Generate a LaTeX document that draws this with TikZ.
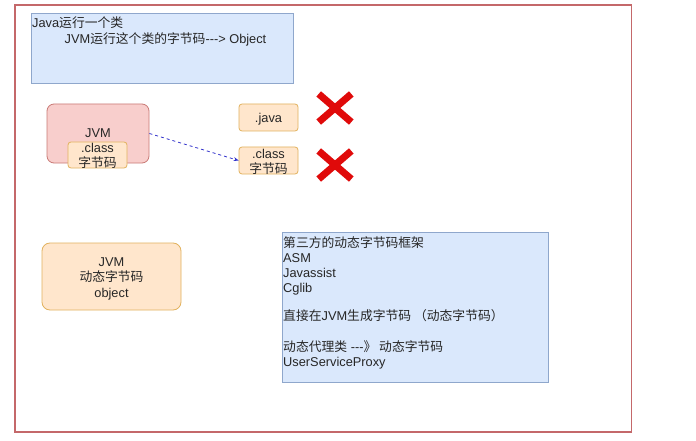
\documentclass[tikz,border=0pt]{standalone}
\usepackage{fontspec}
\setmainfont{Liberation Sans}
\newfontfamily\zhfont{Noto Sans CJK SC}
\newcommand{\zh}[1]{{\zhfont #1}}
\usetikzlibrary{arrows.meta}
\definecolor{bluefill}{HTML}{DAE8FC}
\definecolor{bluedraw}{HTML}{8FA7CC}
\definecolor{pinkfill}{HTML}{F8CECC}
\definecolor{pinkdraw}{HTML}{C97A76}
\definecolor{orfill}{HTML}{FFE6CC}
\definecolor{ordraw}{HTML}{E2B25E}
\definecolor{framecol}{HTML}{C4686A}
\definecolor{xred}{HTML}{E00A0A}
\definecolor{arrowblue}{HTML}{3333CC}
\begin{document}
\begin{tikzpicture}[x=1pt,y=-1pt,
  every node/.style={font=\fontsize{12.8}{15}\selectfont, text=black!85},
  bluebox/.style={draw=bluedraw, fill=bluefill, line width=0.8pt, inner sep=0pt},
  pinkbox/.style={draw=pinkdraw, fill=pinkfill, line width=0.8pt, rounded corners=7pt, inner sep=0pt},
  orbox/.style={draw=ordraw, fill=orfill, line width=0.8pt, rounded corners=3pt, inner sep=0pt},
  bigorbox/.style={draw=ordraw, fill=orfill, line width=0.8pt, rounded corners=8pt, inner sep=0pt},
  ctext/.style={inner sep=0pt, align=center},
  txt/.style={inner sep=0pt, anchor=west, text height=11pt, text depth=2pt},
  crossbox/.style={inner sep=0pt, minimum width=36pt, minimum height=31pt},
  xline/.style={draw=xred, line width=7pt, shorten >=2.5pt, shorten <=2.5pt},
  link/.style={draw=arrowblue, line width=0.8pt, dash pattern=on 3pt off 3pt, -{Stealth[length=5pt,width=4pt]}}
]
\useasboundingbox (0,0) rectangle (696,441);
\fill[white] (0,0) rectangle (696,441);
% outer frame
\draw[framecol, line width=1.6pt] (15,5) rectangle (631.5,432);

% top box
\node[bluebox, minimum width=262pt, minimum height=70pt] (topbox) at (162,48) {};
\node[txt] (t1) at (32,23) {Java\zh{运行一个类}};
\node[txt] (t2) at (64.5,39) {JVM\zh{运行这个类的字节码}-{}-{}-> Object};

% JVM box with class
\node[pinkbox, minimum width=102pt, minimum height=59pt] (jvm) at (98,133.5) {};
\node[ctext] (jvmt) at (98,133) {JVM};
\node[orbox, minimum width=59pt, minimum height=26pt] (cls1) at (97.5,155) {};
\node[ctext] (cls1t) at (97.5,156) {.class\\\zh{字节码}};

% .java and .class
\node[orbox, minimum width=59pt, minimum height=27pt] (java) at (268.5,117.5) {};
\node[ctext] (javat) at (268.5,119.5) {.java};
\node[orbox, minimum width=59pt, minimum height=27pt] (cls2) at (268.5,160.5) {};
\node[ctext] (cls2t) at (268.5,162) {.class\\\zh{字节码}};

\draw[link] (jvm.east) -- (cls2.west);

% red crosses
\node[crossbox] (x1) at (335,108) {};
\node[crossbox] (x2) at (335,165) {};
\draw[xline] (x1.north west) -- (x1.south east);
\draw[xline] (x1.north east) -- (x1.south west);
\draw[xline] (x2.north west) -- (x2.south east);
\draw[xline] (x2.north east) -- (x2.south west);

% JVM dynamic box
\node[bigorbox, minimum width=139pt, minimum height=67pt] (jvm2) at (111.5,276.5) {};
\node[ctext, font=\fontsize{12.8}{15.5}\selectfont] (jvm2t) at (111.5,278.5) {JVM\\\zh{动态字节码}\\object};

% right box
\node[bluebox, minimum width=266pt, minimum height=150pt] (rbox) at (415,307) {};
\node[txt] (r1) at (283,243) {\zh{第三方的动态字节码框架}};
\node[txt] (r2) at (283,258) {ASM};
\node[txt] (r3) at (283,273) {Javassist};
\node[txt] (r4) at (283,288) {Cglib};
\node[txt] (r5) at (283,316) {\zh{直接在}JVM\zh{生成字节码 （动态字节码）}};
\node[txt] (r6) at (283,347) {\zh{动态代理类} -{}-{}-\zh{》 动态字节码}};
\node[txt] (r7) at (283,362) {UserServiceProxy};
\end{tikzpicture}
\end{document}
